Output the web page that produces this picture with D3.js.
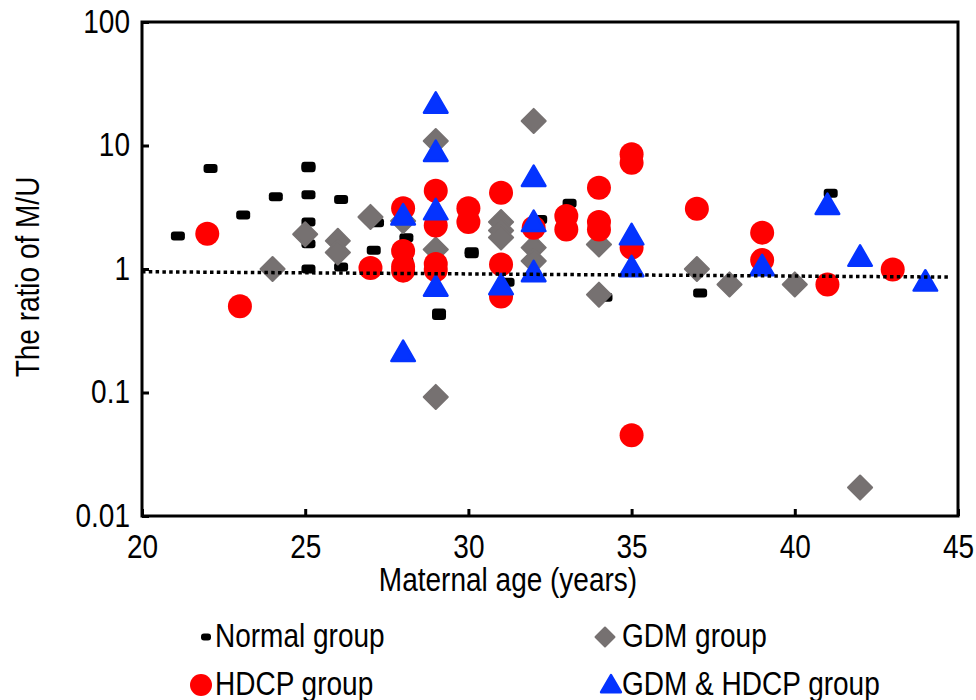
<!DOCTYPE html>
<html>
<head>
<meta charset="utf-8">
<script src="https://cdn.jsdelivr.net/npm/d3@7"></script>
<style>
  body { margin: 0; background: #fff; }
  svg text { font-family: "Liberation Sans", Arial, sans-serif; fill: #000; }
</style>
</head>
<body>
<svg id="chart" width="976" height="700"></svg>
<script>
// data: [maternal age, ratio M/U]
const normalGroup = [
  [21.1, 1.85], [22.1, 6.5], [23.1, 2.74], [24.1, 3.85],
  [25.1, 6.8], [25.1, 6.6], [25.1, 4.0], [25.1, 2.4], [25.1, 1.6], [25.1, 1.0],
  [26.1, 3.66], [26.1, 1.04], [27.2, 2.37], [27.1, 1.42],
  [28.1, 1.79], [28.1, 1.15], [29.1, 0.44], [29.1, 0.42],
  [30.1, 1.38], [30.1, 1.33], [31.2, 0.78], [32.2, 2.52],
  [33.1, 3.4], [34.2, 0.59], [37.1, 0.64], [41.1, 4.1]
];
const gdmGroup = [
  [24, 1.0], [25, 1.91], [26, 1.69], [26, 1.36], [27, 2.64], [28, 2.45],
  [29, 10.87], [29, 1.44], [29, 0.092],
  [31, 2.4], [31, 2.05], [31, 1.8],
  [32, 15.8], [32, 1.49], [32, 1.16],
  [34, 1.58], [34, 0.62], [37, 1.0], [38, 0.75], [40, 0.75], [42, 0.017]
];
const hdcpGroup = [
  [22, 1.93], [23, 0.5], [27, 1.02],
  [28, 3.1], [28, 1.4], [28, 1.05], [28, 0.97],
  [29, 4.3], [29, 2.25], [29, 1.1], [29, 0.98],
  [30, 3.1], [30, 2.4], [31, 4.15], [31, 1.09], [31, 0.6],
  [32, 2.16], [33, 2.69], [33, 2.09],
  [34, 4.55], [34, 2.4], [34, 2.09],
  [35, 8.5], [35, 7.25], [35, 1.49], [35, 0.045],
  [37, 3.08], [39, 1.97], [39, 1.18], [41, 0.75], [43, 0.99]
];
const bothGroup = [
  [28, 2.68], [28, 0.21], [29, 21.5], [29, 8.75], [29, 2.95], [29, 0.71],
  [31, 0.73], [32, 5.49], [32, 2.37], [32, 0.93],
  [35, 1.85], [35, 1.02], [39, 1.04], [41, 3.26], [42, 1.24], [44, 0.78]
];
const trendLine = [[20, 0.95], [44.75, 0.86]];

const xTicks = [20, 25, 30, 35, 40, 45];
const yTicks = [0.01, 0.1, 1, 10, 100];
const legendItems = ["Normal group", "GDM group", "HDCP group", "GDM & HDCP group"];

let svg = d3.select("svg#chart");
let margin = { top: 22, right: 18, bottom: 184, left: 142 };
let chartWidth = 976 - margin.left - margin.right;
let chartHeight = 700 - margin.top - margin.bottom;
const stretch = "scale(1,1.17)"; // the original lettering is tall and narrow

const xScale = d3.scaleLinear().domain([20, 45]).range([0, chartWidth]);
const yScale = d3.scaleLog().domain([0.01, 100]).range([chartHeight, 0]);

let plot = svg.append("g").attr("transform", "translate(" + margin.left + "," + margin.top + ")");

// axes with inside ticks
let bottomAxis = d3.axisBottom(xScale).tickValues(xTicks).tickSize(-7).tickPadding(16).tickFormat(d3.format("d"));
let gx = plot.append("g").attr("transform", "translate(0," + chartHeight + ")").call(bottomAxis);
let leftAxis = d3.axisLeft(yScale).tickValues(yTicks).tickSize(-7).tickPadding(12).tickFormat(d => String(d));
let gy = plot.append("g").call(leftAxis);
[gx, gy].forEach(g => {
  g.select(".domain").remove();
  g.selectAll(".tick line").attr("stroke", "#000").attr("stroke-width", 3);
  g.selectAll(".tick text").style("font-size", "28px").attr("transform", stretch);
});

// markers
const normalMark = (g, x, y, w, h) => g.append("rect").attr("x", x - (w || 14) / 2).attr("y", y - (h || 9) / 2)
  .attr("width", w || 14).attr("height", h || 9).attr("rx", 3).attr("fill", "#000");
const gdmMark = (g, x, y, s) => g.append("path").attr("d", d3.symbol().type(d3.symbolSquare).size(s || 290)())
  .attr("transform", "translate(" + x + "," + y + ") rotate(45)")
  .attr("fill", "#767171").attr("stroke", "#767171").attr("stroke-width", 2).attr("stroke-linejoin", "round");
const hdcpMark = (g, x, y, r) => g.append("circle").attr("cx", x).attr("cy", y).attr("r", r || 12).attr("fill", "#ff0000");
const bothMark = (g, x, y, s) => g.append("path").attr("d", d3.symbol().type(d3.symbolTriangle).size(s || 240)())
  .attr("transform", "translate(" + x + "," + (y + 1.5) + ")")
  .attr("fill", "#0433ff").attr("stroke", "#0433ff").attr("stroke-width", 2.5).attr("stroke-linejoin", "round");

let pts = plot.append("g");
normalGroup.forEach(d => normalMark(pts, xScale(d[0]), yScale(d[1])));
gdmGroup.forEach(d => gdmMark(pts, xScale(d[0]), yScale(d[1])));
hdcpGroup.forEach(d => hdcpMark(pts, xScale(d[0]), yScale(d[1])));
bothGroup.forEach(d => bothMark(pts, xScale(d[0]), yScale(d[1])));

// trend line (dotted)
plot.append("path")
  .datum(trendLine)
  .attr("d", d3.line().x(d => xScale(d[0])).y(d => yScale(d[1])))
  .attr("fill", "none").attr("stroke", "#000").attr("stroke-width", 3.5).attr("stroke-dasharray", "3.5 3.3");

// frame
plot.append("rect").attr("width", chartWidth).attr("height", chartHeight)
  .attr("fill", "none").attr("stroke", "#000").attr("stroke-width", 3);

// axis titles
svg.append("text").attr("transform", "translate(508,591) " + stretch).attr("text-anchor", "middle")
  .style("font-size", "28px").text("Maternal age (years)");
svg.append("text").attr("transform", "translate(39," + (margin.top + chartHeight / 2 + 8) + ") rotate(-90) " + stretch)
  .attr("text-anchor", "middle").style("font-size", "28px").text("The ratio of M/U");

// legend
let legend = svg.append("g");
const lx = [215, 622], ly = [637, 685];
normalMark(legend, 206, ly[0], 10, 7);
gdmMark(legend, 605, ly[0], 180);
hdcpMark(legend, 201, ly[1], 11);
bothMark(legend, 611, ly[1], 170);
legendItems.forEach((t, i) => {
  legend.append("text")
    .attr("transform", "translate(" + lx[i % 2] + "," + (ly[Math.floor(i / 2)] + 10) + ") " + stretch)
    .style("font-size", "28px").text(t);
});
</script>
</body>
</html>
